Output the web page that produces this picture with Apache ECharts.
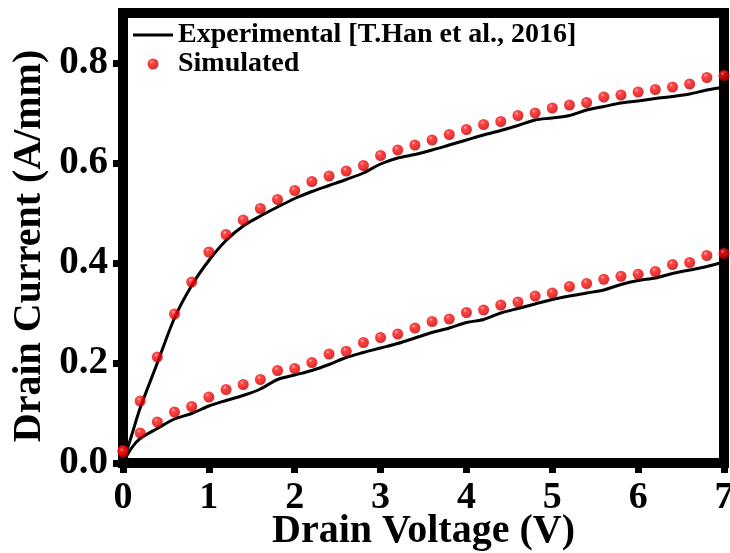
<!DOCTYPE html>
<html>
<head>
<meta charset="utf-8">
<script src="https://cdn.jsdelivr.net/npm/echarts@6/dist/echarts.min.js"></script>
<style>
html,body{margin:0;padding:0;background:#fff;}
#chart{width:730px;height:553px;}
</style>
</head>
<body>
<div id="chart"></div>
<script>
// Experimental curves (black lines)
var expV = [0, 0.1, 0.2, 0.4, 0.6, 0.8, 1.0, 1.2, 1.4, 1.6, 1.8, 2.0, 2.2, 2.4, 2.6, 2.8, 3.0, 3.2, 3.4, 3.6, 3.8, 4.0, 4.2, 4.4, 4.6, 4.8, 5.0, 5.2, 5.4, 5.6, 5.8, 6.0, 6.2, 6.4, 6.6, 6.8, 7.0];
var expUpper = [0.0, 0.055, 0.11, 0.20, 0.29, 0.355, 0.405, 0.445, 0.474, 0.494, 0.512, 0.529, 0.543, 0.555, 0.567, 0.580, 0.598, 0.610, 0.617, 0.626, 0.636, 0.646, 0.656, 0.665, 0.675, 0.686, 0.690, 0.695, 0.706, 0.713, 0.720, 0.724, 0.729, 0.733, 0.738, 0.746, 0.752];
var expLower = [0.0, 0.03, 0.049, 0.069, 0.088, 0.099, 0.114, 0.125, 0.135, 0.148, 0.167, 0.176, 0.185, 0.197, 0.211, 0.221, 0.230, 0.239, 0.250, 0.261, 0.270, 0.281, 0.287, 0.300, 0.309, 0.318, 0.327, 0.334, 0.340, 0.346, 0.357, 0.365, 0.370, 0.379, 0.386, 0.393, 0.402];

// Simulated points (red spheres)
var simV = [0, 0.2, 0.4, 0.6, 0.8, 1.0, 1.2, 1.4, 1.6, 1.8, 2.0, 2.2, 2.4, 2.6, 2.8, 3.0, 3.2, 3.4, 3.6, 3.8, 4.0, 4.2, 4.4, 4.6, 4.8, 5.0, 5.2, 5.4, 5.6, 5.8, 6.0, 6.2, 6.4, 6.6, 6.8, 7.0];
var simUpper = [0.025, 0.124, 0.212, 0.298, 0.362, 0.422, 0.457, 0.486, 0.509, 0.527, 0.545, 0.563, 0.574, 0.584, 0.595, 0.615, 0.626, 0.636, 0.646, 0.657, 0.667, 0.677, 0.683, 0.695, 0.700, 0.710, 0.716, 0.721, 0.732, 0.736, 0.742, 0.747, 0.752, 0.758, 0.771, 0.775];
var simLower = [0.022, 0.060, 0.082, 0.102, 0.113, 0.132, 0.147, 0.157, 0.167, 0.185, 0.189, 0.201, 0.218, 0.2235, 0.241, 0.251, 0.258, 0.270, 0.283, 0.288, 0.301, 0.306, 0.316, 0.322, 0.334, 0.340, 0.353, 0.359, 0.3675, 0.3735, 0.3775, 0.383, 0.397, 0.401, 0.415, 0.419];

// Axis ticks
var xTicks = [0, 1, 2, 3, 4, 5, 6, 7];
var yTicks = [0, 0.2, 0.4, 0.6, 0.8];

var expName = 'Experimental [T.Han et al., 2016]';
var simName = 'Simulated';

function pairs(xs, ys) { return xs.map(function (x, i) { return [x, ys[i]]; }); }

var FONT = '"Liberation Serif", "Times New Roman", serif';
var sphere = new echarts.graphic.RadialGradient(0.38, 0.32, 0.72, [
  { offset: 0, color: '#ffb4b4' },
  { offset: 0.22, color: '#ff1a1a' },
  { offset: 0.75, color: '#e00000' },
  { offset: 1, color: '#a80000' }
]);

var chart = echarts.init(document.getElementById('chart'), null, { renderer: 'canvas' });
chart.setOption({
  animation: false,
  backgroundColor: '#fff',
  grid: {
    left: 123, right: 6, top: 13, bottom: 90,
    outerBoundsMode: 'none', containLabel: false,
    show: true, borderColor: '#000', borderWidth: 10, backgroundColor: 'transparent'
  },
  legend: {
    orient: 'vertical', left: 128, top: 16, itemWidth: 40, itemHeight: 11, itemGap: 1,
    symbolKeepAspect: true,
    textStyle: { fontFamily: FONT, fontWeight: 'bold', fontSize: 28, color: '#000' },
    data: [
      { name: expName, icon: 'path://M0,0H40V3H0Z', itemStyle: { color: '#000' } },
      { name: simName, icon: 'circle' }
    ]
  },
  xAxis: {
    type: 'value', min: 0, max: 7, interval: 1,
    name: 'Drain Voltage (V)', nameLocation: 'middle', nameGap: 49, nameMoveOverlap: false,
    nameTextStyle: { fontFamily: FONT, fontWeight: 'bold', fontSize: 40, color: '#000' },
    axisLine: { show: false },
    axisTick: { show: true, inside: false, length: 10, lineStyle: { color: '#000', width: 7 }, customValues: xTicks },
    axisLabel: { fontFamily: FONT, fontWeight: 'bold', fontSize: 38, color: '#000', margin: 16, customValues: xTicks },
    splitLine: { show: false }
  },
  yAxis: {
    type: 'value', min: 0, max: 0.9, interval: 0.2,
    name: 'Drain Current (A/mm)', nameLocation: 'middle', nameGap: 73, nameMoveOverlap: false,
    nameTextStyle: { fontFamily: FONT, fontWeight: 'bold', fontSize: 40, color: '#000', padding: [0, 16, 0, 0] },
    axisLine: { show: false },
    axisTick: { show: true, inside: false, length: 10, lineStyle: { color: '#000', width: 7 }, customValues: yTicks },
    axisLabel: {
      fontFamily: FONT, fontWeight: 'bold', fontSize: 39, color: '#000', margin: 15, customValues: yTicks,
      formatter: function (v) { return v.toFixed(1); }
    },
    splitLine: { show: false }
  },
  series: [
    { name: expName, type: 'line', data: pairs(expV, expUpper), showSymbol: false, symbol: 'none', smooth: 0.3,
      lineStyle: { color: '#000', width: 3 }, itemStyle: { color: '#000' }, z: 2 },
    { name: expName, type: 'line', data: pairs(expV, expLower), showSymbol: false, symbol: 'none', smooth: 0.3,
      lineStyle: { color: '#000', width: 3 }, itemStyle: { color: '#000' }, z: 2 },
    { name: simName, type: 'scatter', data: pairs(simV, simUpper), symbol: 'circle', symbolSize: 11,
      itemStyle: { color: sphere }, clip: false, z: 5 },
    { name: simName, type: 'scatter', data: pairs(simV, simLower), symbol: 'circle', symbolSize: 11,
      itemStyle: { color: sphere }, clip: false, z: 5 }
  ]
});
</script>
</body>
</html>
